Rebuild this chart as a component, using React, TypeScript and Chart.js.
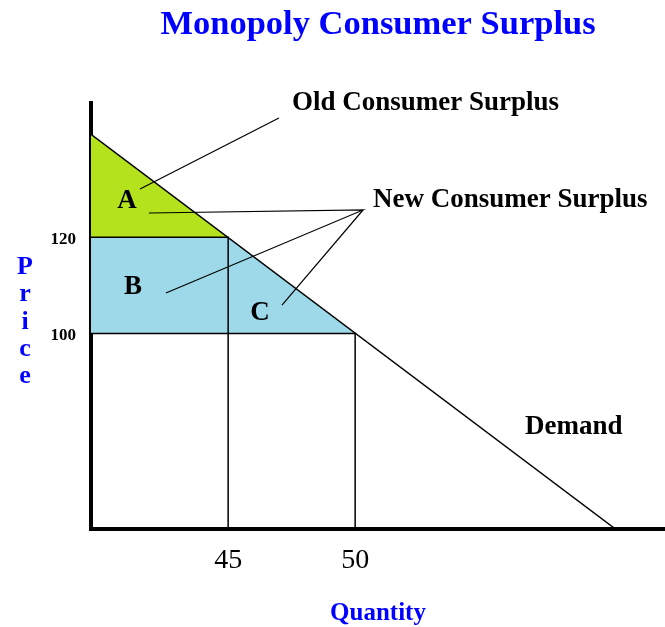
import React, { useEffect, useRef } from "react";
import { Chart, registerables } from "chart.js";

Chart.register(...registerables);

const FONT = "'Liberation Serif', 'Times New Roman', serif";

// Axis ranges (quantity, price)
const quantityRange = [39.6, 62.2];
const priceRange = [59.4, 147.9];

// Tick labels
const quantityTicks = [45, 50];
const priceTicks = [120, 100];

// Demand curve end points
const demandQ = [39.6, 60.25];
const demandP = [141.4, 59.4];

// Old consumer surplus (area A)
const oldSurplusQ = [39.6, 45];
const oldSurplusP = [141.4, 120];

// New consumer surplus boundary (areas B + C), filled down to price 100
const newSurplusQ = [39.6, 45, 50];
const newSurplusP = [120, 120, 100];

// Price / quantity pairs for the guide lines
const guideQ = [45, 50];
const guideP = [120, 100];

// Leader lines
const oldLeaderQ = [47.0, 41.53];
const oldLeaderP = [144.78, 130.03];
const newLeaderApexQ = 50.31;
const newLeaderApexP = 125.67;
const newLeaderEndsQ = [41.88, 42.55, 47.12];
const newLeaderEndsP = [125.05, 108.42, 105.93];

// Annotation labels
const labelTexts = ["Old Consumer Surplus", "New Consumer Surplus", "A", "B", "C", "Demand"];
const labelQ = [47.51, 50.7, 41.02, 41.25, 46.25, 56.69];
const labelP = [146.45, 126.29, 126.08, 108.22, 102.81, 79.13];
const labelAlign: CanvasTextAlign[] = ["left", "left", "center", "center", "center", "left"];

const priceLetters = ["P", "r", "i", "c", "e"];

const pts = (qs: number[], ps: number[]) => qs.map((q, i) => ({ x: q, y: ps[i] }));

export default function App() {
  const ref = useRef<HTMLCanvasElement>(null);

  useEffect(() => {
    document.body.style.margin = "0";
    const canvas = ref.current;
    if (!canvas) return;

    const qMin = quantityRange[0];
    const pMin = priceRange[0];

    const lineDs = (data: any[], width = 1.5) => ({
      data,
      showLine: true,
      borderColor: "#000000",
      borderWidth: width,
      pointRadius: 0,
      fill: false,
      tension: 0,
    });

    const annotationPlugin = {
      id: "annotations",
      afterDraw(chart: any) {
        const { ctx, scales, chartArea } = chart;
        const x = scales.x;
        const y = scales.y;
        ctx.save();
        ctx.fillStyle = "#000000";
        ctx.font = `bold 27px ${FONT}`;
        ctx.textBaseline = "alphabetic";
        labelTexts.forEach((t, i) => {
          ctx.textAlign = labelAlign[i];
          ctx.fillText(t, x.getPixelForValue(labelQ[i]), y.getPixelForValue(labelP[i]));
        });
        ctx.fillStyle = "#0000ff";
        ctx.font = `bold 26px ${FONT}`;
        ctx.textAlign = "center";
        const mid = (chartArea.top + chartArea.bottom) / 2;
        priceLetters.forEach((l, i) => {
          ctx.fillText(l, 25, mid - 42 + 27.25 * i);
        });
        ctx.restore();
      },
    };

    const chart = new Chart(canvas, {
      type: "scatter",
      data: {
        datasets: [
          lineDs(pts(demandQ, demandP)),
          lineDs([{ x: qMin, y: guideP[0] }, { x: guideQ[0], y: guideP[0] }, { x: guideQ[0], y: pMin }]),
          lineDs([{ x: qMin, y: guideP[1] }, { x: guideQ[1], y: guideP[1] }, { x: guideQ[1], y: pMin }]),
          lineDs(pts(oldLeaderQ, oldLeaderP), 1.2),
          lineDs(
            [
              { x: newLeaderEndsQ[0], y: newLeaderEndsP[0] },
              { x: newLeaderApexQ, y: newLeaderApexP },
              { x: newLeaderEndsQ[1], y: newLeaderEndsP[1] },
            ],
            1.2
          ),
          lineDs(
            [
              { x: newLeaderApexQ, y: newLeaderApexP },
              { x: newLeaderEndsQ[2], y: newLeaderEndsP[2] },
            ],
            1.2
          ),
          {
            data: pts(oldSurplusQ, oldSurplusP),
            showLine: true,
            borderWidth: 0,
            borderColor: "rgba(0,0,0,0)",
            backgroundColor: "#b4e31e",
            pointRadius: 0,
            fill: { value: 120 },
          },
          {
            data: pts(newSurplusQ, newSurplusP),
            showLine: true,
            borderWidth: 0,
            borderColor: "rgba(0,0,0,0)",
            backgroundColor: "#9dd9e9",
            pointRadius: 0,
            fill: { value: 100 },
          },
        ] as any,
      },
      options: {
        responsive: false,
        animation: false,
        events: [],
        layout: { padding: 0 },
        plugins: {
          legend: { display: false },
          tooltip: { enabled: false },
          filler: { drawTime: "beforeDatasetsDraw" },
          title: {
            display: true,
            text: "Monopoly Consumer Surplus",
            color: "#0000ff",
            font: { family: FONT, size: 34.5, weight: "bold" },
            padding: { top: 4.8, bottom: 56.8 },
            fullSize: false,
          } as any,
        },
        scales: {
          x: {
            type: "linear",
            min: quantityRange[0],
            max: quantityRange[1],
            grid: { display: false, drawTicks: false },
            border: { display: true, color: "#000000", width: 4 },
            ticks: {
              color: "#000000",
              font: { family: FONT, size: 28 },
              padding: 15,
              maxRotation: 0,
            },
            afterBuildTicks: (s: any) => {
              s.ticks = quantityTicks.map((v) => ({ value: v }));
            },
            afterFit: (s: any) => {
              s.height = 98;
            },
            title: {
              display: true,
              text: "Quantity",
              color: "#0000ff",
              font: { family: FONT, size: 25, weight: "bold", lineHeight: 1.05 },
              padding: { top: 0, bottom: 0 },
            },
          },
          y: {
            type: "linear",
            min: priceRange[0],
            max: priceRange[1],
            grid: { display: false, drawTicks: false },
            border: { display: true, color: "#000000", width: 4 },
            ticks: {
              color: "#000000",
              font: { family: FONT, size: 17, weight: "bold" },
              padding: 15,
              labelOffset: 2,
            },
            afterBuildTicks: (s: any) => {
              s.ticks = priceTicks.map((v) => ({ value: v }));
            },
            afterFit: (s: any) => {
              s.width = 91;
            },
          },
        },
      } as any,
      plugins: [annotationPlugin],
    });

    return () => chart.destroy();
  }, []);

  return <canvas ref={ref} width={665} height={627} style={{ display: "block" }} />;
}
